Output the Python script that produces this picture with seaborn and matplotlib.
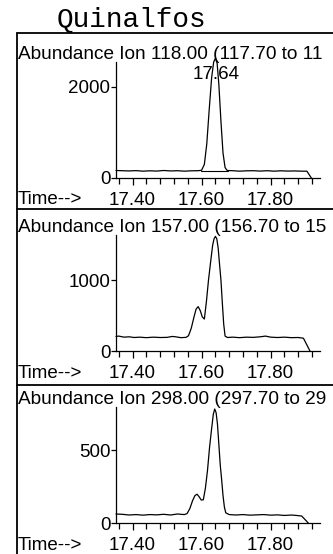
import matplotlib
matplotlib.use("Agg")
import matplotlib.pyplot as plt
from matplotlib.lines import Line2D
from matplotlib.ticker import FixedLocator
import seaborn as sns
import pandas as pd

# ---------------- data ----------------
title = "Quinalfos"
panel_titles = ["Ion 118.00 (117.70 to 11",
                "Ion 157.00 (156.70 to 15",
                "Ion 298.00 (297.70 to 29"]

time_118 = [17.352, 17.37, 17.39, 17.41, 17.43, 17.45, 17.47, 17.49, 17.51, 17.53,
            17.55, 17.57, 17.59, 17.600, 17.608, 17.615, 17.622, 17.629, 17.635, 17.640,
            17.645, 17.650, 17.656, 17.662, 17.668, 17.674, 17.69, 17.71, 17.73, 17.75,
            17.77, 17.79, 17.81, 17.83, 17.85, 17.87, 17.89, 17.905, 17.918]
abund_118 = [165, 160, 155, 162, 150, 158, 152, 165, 155, 160,
             150, 158, 160, 170, 300, 750, 1500, 2200, 2550, 2630,
             2520, 2050, 1250, 550, 230, 165, 160, 150, 158, 160,
             152, 160, 150, 158, 152, 155, 150, 150, 0]
baseline_118_t = [17.597, 17.676]
baseline_118_a = [160, 160]

time_157 = [17.352, 17.36, 17.375, 17.39, 17.405, 17.42, 17.44, 17.46, 17.48, 17.50,
            17.515, 17.525, 17.54, 17.555, 17.562, 17.570, 17.578, 17.584, 17.590, 17.596,
            17.602, 17.608, 17.614, 17.620, 17.626, 17.632, 17.636, 17.640, 17.644, 17.648,
            17.652, 17.656, 17.660, 17.664, 17.668, 17.675, 17.69, 17.71, 17.73, 17.75,
            17.77, 17.785, 17.80, 17.82, 17.84, 17.86, 17.88, 17.895, 17.914]
abund_157 = [205, 210, 195, 200, 190, 195, 188, 195, 190, 192,
             205, 200, 188, 192, 215, 320, 480, 590, 625, 570,
             480, 450, 700, 1000, 1250, 1490, 1580, 1615, 1580, 1450,
             1220, 1000, 680, 380, 210, 190, 195, 188, 195, 192,
             200, 210, 195, 190, 195, 188, 190, 180, 0]

time_298 = [17.352, 17.37, 17.39, 17.41, 17.43, 17.45, 17.47, 17.49, 17.51, 17.53,
            17.55, 17.558, 17.566, 17.574, 17.581, 17.587, 17.593, 17.599, 17.605, 17.611,
            17.617, 17.623, 17.629, 17.634, 17.638, 17.642, 17.646, 17.650, 17.654, 17.658,
            17.662, 17.666, 17.670, 17.68, 17.70, 17.72, 17.74, 17.76, 17.78, 17.80,
            17.82, 17.84, 17.86, 17.875, 17.89, 17.909]
abund_298 = [62, 60, 55, 58, 54, 58, 56, 60, 55, 62,
             58, 65, 100, 155, 190, 198, 180, 158, 160, 240,
             360, 520, 650, 750, 785, 760, 680, 540, 400, 300,
             190, 110, 70, 58, 55, 58, 54, 56, 58, 54,
             56, 52, 55, 52, 48, 0]

y_ticks = [[0, 2000], [0, 1000], [0, 500]]
y_tops = [2549, 1634, 799]
x_major = [17.40, 17.60, 17.80]
x_major_labels = ["17.40", "17.60", "17.80"]
x_minor = [17.36, 17.44, 17.48, 17.52, 17.56, 17.64, 17.68, 17.72, 17.76, 17.84, 17.88, 17.92]
x_range = (17.352, 17.943)
peak_label = "17.64"
peak_label_pos = (17.641, 2280)

# ---------------- style ----------------
sns.set_theme(style="white")
plt.rcParams["font.family"] = ["Liberation Sans", "DejaVu Sans"]
FS = 13.5

W, H = 333, 554
fig = plt.figure(figsize=(W / 100, H / 100), dpi=100)
fig.patch.set_facecolor("white")


def fx(px):
    return px / W


def fy(py):
    return 1 - py / H


# (left, right, top, bottom) in pixels
rects = [(116, 320, 62, 178), (116, 320, 235, 351), (116, 320, 407, 523)]
traces = [(time_118, abund_118), (time_157, abund_157), (time_298, abund_298)]
abund_text_y = [54.5, 227.5, 399.5]
time_text_y = [200.0, 373.0, 545.0]

for i, ((l, r, t, b), (tt, aa)) in enumerate(zip(rects, traces)):
    ax = fig.add_axes([fx(l), fy(b), (r - l) / W, (b - t) / H])
    ax.set_facecolor("none")
    df = pd.DataFrame({"time": tt, "abund": aa})
    sns.lineplot(data=df, x="time", y="abund", ax=ax, color="black",
                 linewidth=0.9, sort=False, estimator=None)
    for ln in ax.lines:
        ln.set_clip_on(False)
    if i == 0:
        sns.lineplot(x=baseline_118_t, y=baseline_118_a, ax=ax, color="black",
                     linewidth=0.8, estimator=None)
        ax.text(peak_label_pos[0], peak_label_pos[1], peak_label, fontsize=FS,
                ha="center", va="center", color="black")
    ax.set_xlim(*x_range)
    ax.set_ylim(0, y_tops[i])
    ax.set_xlabel("")
    ax.set_ylabel("")
    for s in ["top", "right"]:
        ax.spines[s].set_visible(False)
    for s in ["left", "bottom"]:
        ax.spines[s].set_color("black")
        ax.spines[s].set_linewidth(0.9)
    ax.xaxis.set_major_locator(FixedLocator(x_major))
    ax.set_xticklabels(x_major_labels)
    ax.xaxis.set_minor_locator(FixedLocator(x_minor))
    ax.set_yticks(y_ticks[i])
    ax.set_yticklabels([str(v) for v in y_ticks[i]])
    ax.tick_params(axis="x", which="major", direction="out", length=5, width=0.9,
                   colors="black", labelsize=FS, pad=5.4, bottom=True)
    ax.tick_params(axis="x", which="minor", direction="out", length=4, width=0.9,
                   colors="black", bottom=True)
    ax.tick_params(axis="y", which="major", direction="out", length=3.5, width=0.9,
                   colors="black", labelsize=FS, pad=0.5, left=True)
    ax.grid(False)

    fig.text(fx(18), fy(abund_text_y[i]), "Abundance " + panel_titles[i],
             fontsize=13.7, ha="left", va="center", color="black")
    fig.text(fx(18), fy(time_text_y[i]), "Time-->", fontsize=FS,
             ha="left", va="center", color="black")

# frame lines
lw_frame = 1.3
fig.add_artist(Line2D([fx(17), fx(333)], [fy(33), fy(33)], color="black", lw=lw_frame))
fig.add_artist(Line2D([fx(17), fx(17)], [fy(33), fy(554)], color="black", lw=lw_frame))
for yy in (209, 385):
    fig.add_artist(Line2D([fx(17), fx(333)], [fy(yy), fy(yy)], color="black", lw=lw_frame))

fig.text(fx(131), fy(19), title, fontsize=20, ha="center", va="center",
         family=["Liberation Mono", "DejaVu Sans Mono"], color="black")

fig.savefig("out.png", dpi=100, facecolor="white")
